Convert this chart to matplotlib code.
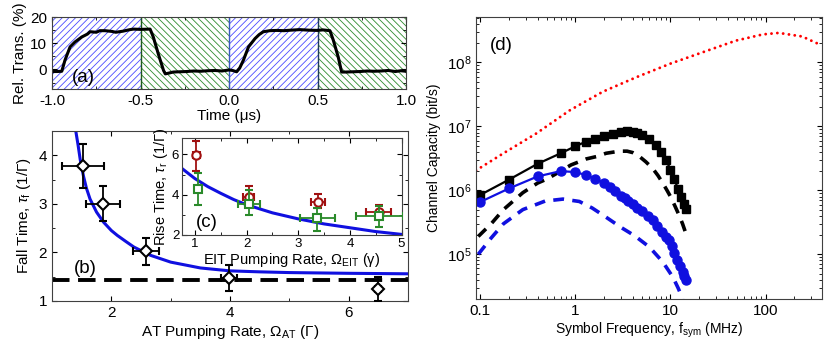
import numpy as np
import matplotlib
matplotlib.use('Agg')
import matplotlib.pyplot as plt
from matplotlib.ticker import MultipleLocator, LogLocator, NullFormatter, FixedLocator

plt.rcParams['font.family'] = ['Liberation Sans', 'DejaVu Sans']
plt.rcParams['mathtext.fontset'] = 'custom'
plt.rcParams['mathtext.rm'] = 'Liberation Sans'
plt.rcParams['mathtext.it'] = 'Liberation Sans:italic'
plt.rcParams['font.size'] = 11
plt.rcParams['hatch.linewidth'] = 0.6

# (a) пропускание во времени
t_a = [-1.0, -0.97, -0.945, -0.927, -0.91, -0.898, -0.87, -0.832, -0.80, -0.785,
       -0.75, -0.73, -0.70, -0.66, -0.64, -0.60, -0.56, -0.54, -0.50, -0.446,
       -0.428, -0.40, -0.37, -0.36, -0.34, -0.315, -0.28, -0.24, -0.20, -0.16,
       -0.12, -0.08, -0.04, 0.0, 0.02, 0.043, 0.06, 0.081, 0.11, 0.147,
       0.17, 0.194, 0.23, 0.27, 0.31, 0.35, 0.40, 0.45, 0.50, 0.53,
       0.57, 0.589, 0.617, 0.636, 0.66, 0.70, 0.74, 0.78, 0.82, 0.86,
       0.90, 0.94, 0.97, 1.0]
tr_a = [-0.8, -0.8, -0.7, 3.5, 6.5, 8.6, 10.5, 12.4, 13.5, 14.4,
        14.2, 14.8, 14.8, 14.5, 14.2, 14.6, 15.2, 15.4, 15.3, 15.4,
        12.4, 6.0, -0.4, -1.7, -1.4, -1.0, -0.9, -0.8, -0.6, -0.7,
        -0.5, -0.4, -0.6, -0.2, -0.4, -0.9, 0.5, 3.5, 8.6, 11.8,
        13.3, 14.4, 14.8, 14.9, 14.8, 15.0, 15.2, 15.0, 14.9, 15.1,
        14.8, 11.2, 4.7, -1.0, -1.0, -0.9, -0.8, -0.6, -0.7, -0.6,
        -0.4, -0.8, -0.5, -0.7]
blue_spans = [(-1.0, -0.5), (0.0, 0.5)]
green_spans = [(-0.5, 0.0), (0.5, 1.0)]

# (b) время спада
om_at = [1.52, 1.86, 2.58, 3.98, 6.49]
tau_f = [3.78, 3.0, 2.02, 1.47, 1.25]
om_at_err = [0.35, 0.28, 0.22, 0.13, 0.05]
tau_f_err = [0.45, 0.36, 0.27, 0.27, 0.25]
fit_b_x = [1.40, 1.44, 1.475, 1.53, 1.58, 1.64, 1.75, 1.87, 2.0, 2.10, 2.25, 2.38,
           2.66, 3.0, 3.5, 4.0, 4.5, 5.0, 6.0, 7.0]
fit_b_y = [4.5, 4.2, 3.91, 3.57, 3.32, 3.1, 2.83, 2.62, 2.45, 2.35, 2.22, 2.11,
           1.94, 1.80, 1.68, 1.62, 1.60, 1.585, 1.57, 1.56]
tau_min = 1.43

# (c) время нарастания
om_eit_r = [1.03, 2.04, 3.38, 4.56]
rise_r = [5.95, 3.89, 3.64, 3.12]
xerr_r = [0.06, 0.1, 0.14, 0.24]
yerr_r_lo = [0.77, 0.44, 0.32, 0.27]
yerr_r_hi = [0.74, 0.54, 0.40, 0.36]
om_eit_g = [1.05, 2.04, 3.37, 4.57]
rise_g = [4.27, 3.53, 2.82, 2.94]
xerr_g = [0.05, 0.21, 0.34, 0.45]
yerr_g_lo = [0.79, 0.54, 0.62, 0.54]
yerr_g_hi = [0.81, 0.69, 0.50, 0.49]
fit_c_x = [0.75, 1.0, 1.25, 1.5, 1.75, 2.0, 2.5, 3.0, 3.5, 4.0, 4.5, 5.0]
fit_c_y = [5.3, 4.8, 4.4, 4.07, 3.76, 3.5, 3.1, 2.8, 2.55, 2.36, 2.17, 2.03]

# (d) пропускная способность канала
f_sq = [0.1, 0.2, 0.4, 0.7, 1.0, 1.3, 1.6, 2.0, 2.5, 3.0, 3.5, 4.0, 4.5, 5.0,
        6.0, 7.0, 8.0, 9.0, 10, 11, 12, 13, 14, 14.6]
c_sq = [8.5e5, 1.47e6, 2.6e6, 3.8e6, 4.9e6, 5.8e6, 6.3e6, 7.1e6, 7.7e6, 8.2e6,
        8.4e6, 8.3e6, 8.0e6, 7.4e6, 6.4e6, 5.2e6, 4.0e6, 3.0e6, 2.1e6, 1.5e6,
        1.05e6, 8.0e5, 6.2e5, 5.2e5]
f_ci = [0.1, 0.2, 0.4, 0.7, 1.0, 1.3, 1.6, 2.0, 2.3, 2.6, 3.0, 3.3, 3.6, 4.0,
        4.5, 5.0, 5.8, 6.5, 7.3, 8.2, 9.0, 9.6, 10.3, 11.0, 11.8, 12.6, 13.4,
        14.0, 14.6]
c_ci = [6.6e5, 1.07e6, 1.65e6, 2.0e6, 1.93e6, 1.73e6, 1.52e6, 1.3e6, 1.12e6,
        9.7e5, 8.2e5, 7.5e5, 6.9e5, 6.2e5, 5.3e5, 4.7e5, 4.0e5, 3.4e5, 2.8e5,
        2.2e5, 1.85e5, 1.65e5, 1.35e5, 1.05e5, 8.2e4, 6.6e4, 5.3e4, 4.6e4, 4.0e4]
f_kd = [0.095, 0.13, 0.175, 0.28, 0.4, 0.5, 0.7, 0.9, 1.3, 1.7, 2.1, 2.9, 3.5,
        4.0, 4.7, 5.5, 6.5, 7.4, 8.3, 9.2, 10.1, 11.2, 12.4, 13.4, 14.4]
c_kd = [1.9e5, 3.0e5, 5.0e5, 9.2e5, 1.3e6, 1.5e6, 2.0e6, 2.5e6, 3.1e6, 3.4e6,
        3.8e6, 4.1e6, 4.1e6, 3.9e6, 3.4e6, 2.8e6, 2.2e6, 1.7e6, 1.3e6, 1.0e6,
        7.8e5, 5.6e5, 4.0e5, 3.0e5, 2.2e5]
f_bd = [0.095, 0.13, 0.175, 0.28, 0.48, 0.74, 1.1, 1.5, 2.0, 3.0, 4.2, 6.0,
        8.3, 10.6, 12.0, 13.5]
c_bd = [1.0e5, 1.8e5, 3.0e5, 5.0e5, 6.8e5, 7.3e5, 6.7e5, 5.3e5, 4.0e5, 2.65e5,
        1.95e5, 1.3e5, 7.6e4, 4.4e4, 3.0e4, 2.0e4]
f_red = [0.09, 0.175, 0.39, 0.88, 1.95, 4.4, 10, 22, 49, 94, 138, 243, 347, 390]
c_red = [2.05e6, 3.8e6, 7.8e6, 1.8e7, 3.5e7, 5.9e7, 9.6e7, 1.45e8, 2.2e8,
         2.75e8, 2.9e8, 2.55e8, 2.0e8, 1.85e8]

blue = '#1010e0'
hatch_blue = '#4a4aff'
hatch_green = '#2e8b2e'
dark_red = '#a01010'
green = '#2a8a2a'

fig = plt.figure(figsize=(8.3, 3.52), dpi=100)


def style(ax, size=11):
    ax.tick_params(which='both', direction='in', top=True, right=True, labelsize=size)
    ax.tick_params(which='major', length=3.5)
    ax.tick_params(which='minor', length=2)
    for s in ax.spines.values():
        s.set_color('#404040')


# ---- (a)
ax_a = fig.add_axes([0.0627, 0.747, 0.4265, 0.2045])
for x0, x1 in blue_spans:
    ax_a.axvspan(x0, x1, facecolor='none', edgecolor=hatch_blue, hatch='/////', lw=0)
for x0, x1 in green_spans:
    ax_a.axvspan(x0, x1, facecolor='none', edgecolor=hatch_green, hatch='\\\\\\\\\\', lw=0)
ax_a.axvline(-0.5, color='#1e5a1e', lw=1)
ax_a.axvline(0.0, color='#3a5ac0', lw=1)
ax_a.axvline(0.5, color='#1e3a5a', lw=1)
ax_a.plot(t_a, tr_a, color='black', lw=2.2)
ax_a.set_xlim(-1, 1)
ax_a.set_ylim(-7.5, 20)
ax_a.set_xticks([-1.0, -0.5, 0.0, 0.5, 1.0])
ax_a.set_xticklabels(['-1.0', '-0.5', '0.0', '0.5', '1.0'])
ax_a.set_yticks([0, 10, 20])
ax_a.xaxis.set_minor_locator(MultipleLocator(0.25))
ax_a.yaxis.set_minor_locator(MultipleLocator(5))
ax_a.set_xlabel('Time (μs)', labelpad=1)
ax_a.set_ylabel('Rel. Trans. (%)', labelpad=2)
ax_a.text(0.056, 0.1, '(a)', transform=ax_a.transAxes, fontsize=13.5)
style(ax_a)

# ---- (b)
ax_b = fig.add_axes([0.0627, 0.1449, 0.429, 0.483])
ax_b.plot(fit_b_x, fit_b_y, color=blue, lw=2.2, zorder=2)
ax_b.axhline(tau_min, color='black', lw=2.8, linestyle=(0, (4.5, 2.2)), zorder=2)
ax_b.errorbar(om_at, tau_f, xerr=om_at_err, yerr=tau_f_err, fmt='D', mfc='white',
              mec='black', mew=1.5, ms=6.5, ecolor='black', elinewidth=1.3,
              capsize=3, capthick=1.3, zorder=3)
ax_b.set_xlim(1, 7)
ax_b.set_ylim(1, 4.5)
ax_b.set_xticks([2, 4, 6])
ax_b.set_yticks([1, 2, 3, 4])
ax_b.xaxis.set_minor_locator(MultipleLocator(1))
ax_b.yaxis.set_minor_locator(MultipleLocator(0.5))
ax_b.set_xlabel(r'AT Pumping Rate, $\Omega_\mathrm{AT}$ (Γ)', labelpad=2)
ax_b.set_ylabel(r'Fall Time, $\tau_\mathrm{f}$ (1/Γ)', labelpad=4)
ax_b.text(0.062, 0.165, '(b)', transform=ax_b.transAxes, fontsize=13.5)
style(ax_b)

# ---- (c)
ax_c = fig.add_axes([0.2193, 0.3324, 0.2645, 0.2747])
ax_c.plot(fit_c_x, fit_c_y, color=blue, lw=2.2, zorder=2)
ax_c.errorbar(om_eit_r, rise_r, xerr=xerr_r, yerr=[yerr_r_lo, yerr_r_hi], fmt='o',
              mfc='white', mec=dark_red, mew=1.5, ms=6, ecolor=dark_red,
              elinewidth=1.3, capsize=3, capthick=1.3, zorder=3)
ax_c.errorbar(om_eit_g, rise_g, xerr=xerr_g, yerr=[yerr_g_lo, yerr_g_hi], fmt='s',
              mfc='white', mec=green, mew=1.5, ms=5.5, ecolor=green,
              elinewidth=1.3, capsize=3, capthick=1.3, zorder=4)
ax_c.set_xlim(0.75, 5)
ax_c.set_ylim(2, 6.8)
ax_c.set_xticks([1, 2, 3, 4, 5])
ax_c.set_yticks([2, 4, 6])
ax_c.xaxis.set_minor_locator(MultipleLocator(0.5))
ax_c.yaxis.set_minor_locator(MultipleLocator(1))
ax_c.set_xlabel(r'EIT Pumping Rate, $\Omega_\mathrm{EIT}$ (γ)', fontsize=10.5, labelpad=1)
ax_c.set_ylabel(r'Rise Time, $\tau_\mathrm{r}$ (1/Γ)', fontsize=10.5, labelpad=1)
ax_c.text(0.064, 0.086, '(c)', transform=ax_c.transAxes, fontsize=13.5)
style(ax_c, size=9.5)
ax_c.tick_params(pad=2)

# ---- (d)
ax_d = fig.add_axes([0.5735, 0.1506, 0.4165, 0.802])
ax_d.plot(f_red, c_red, color='red', lw=2.1, linestyle=(0, (0.01, 2.0)),
          dash_capstyle='round')
ax_d.plot(f_kd, c_kd, color='black', lw=2.6, linestyle=(0, (3, 2.3)))
ax_d.plot(f_bd, c_bd, color=blue, lw=2.6, linestyle=(0, (3, 2.3)))
ax_d.plot(f_sq, c_sq, color='black', lw=1.6, marker='s', ms=5.5)
ax_d.plot(f_ci, c_ci, color=blue, lw=1.6, marker='o', ms=6.5)
ax_d.set_xscale('log')
ax_d.set_yscale('log')
ax_d.set_xlim(0.09, 390)
ax_d.set_ylim(2e4, 5.2e8)
ax_d.set_xticks([0.1, 1, 10, 100])
ax_d.set_xticklabels(['0.1', '1', '10', '100'])
ax_d.xaxis.set_minor_locator(LogLocator(base=10, subs=np.arange(2, 10)))
ax_d.xaxis.set_minor_formatter(NullFormatter())
ax_d.yaxis.set_major_locator(FixedLocator([1e5, 1e6, 1e7, 1e8]))
ax_d.yaxis.set_minor_locator(LogLocator(base=10, subs=np.arange(2, 10)))
ax_d.yaxis.set_minor_formatter(NullFormatter())
ax_d.set_xlabel(r'Symbol Frequency, f$_\mathrm{sym}$ (MHz)', fontsize=10, labelpad=2)
ax_d.set_ylabel('Channel Capacity (bit/s)', fontsize=10, labelpad=4)
ax_d.text(0.04, 0.882, '(d)', transform=ax_d.transAxes, fontsize=13.5)
style(ax_d)

fig.savefig('out.png', dpi=100)
